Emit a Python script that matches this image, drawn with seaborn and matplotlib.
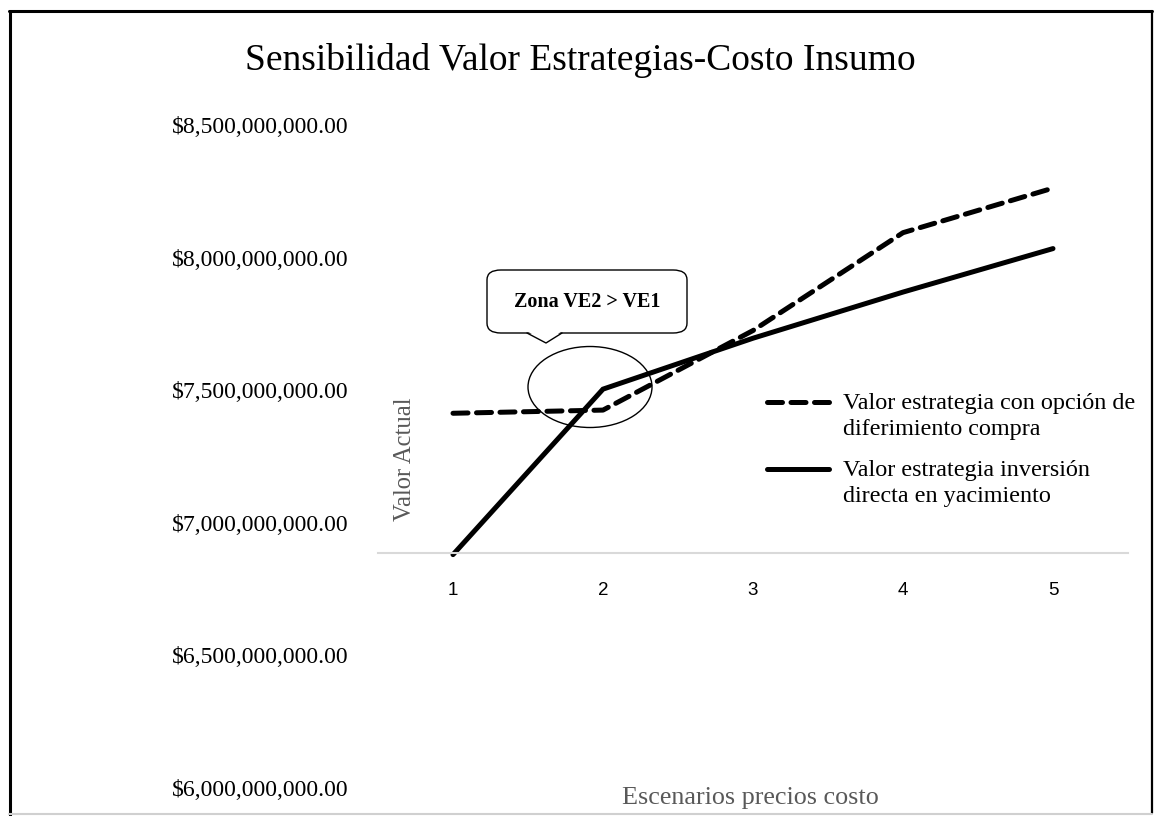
import matplotlib
matplotlib.use("Agg")
import matplotlib.pyplot as plt
import seaborn as sns
import numpy as np
from matplotlib.patches import FancyBboxPatch, Ellipse, Polygon
from matplotlib.lines import Line2D
from matplotlib.ticker import FuncFormatter

# ---- data ----
escenarios = [1, 2, 3, 4, 5]
valor_diferimiento = [7.413e9, 7.425e9, 7.725e9, 8.094e9, 8.262e9]
valor_directa = [6.880e9, 7.504e9, 7.696e9, 7.870e9, 8.034e9]
serie_labels = ["Valor estrategia con opción de\ndiferimiento compra",
                "Valor estrategia inversión\ndirecta en yacimiento"]
y_ticks = [6.0e9, 6.5e9, 7.0e9, 7.5e9, 8.0e9, 8.5e9]
x_tick_labels = ["1", "2", "3", "4", "5"]
titulo = "Sensibilidad Valor Estrategias-Costo Insumo"
x_label = "Escenarios precios costo"
y_label = "Valor Actual"
callout_text = "Zona VE2 > VE1"
axis_cross = 6.887e9

sns.set_theme(style="white")
plt.rcParams['font.family'] = ['Liberation Serif', 'DejaVu Serif']

W, H = 1155, 816
fig = plt.figure(figsize=(W / 100, H / 100), dpi=100)
fig.patch.set_facecolor("white")

def fx(px):
    return px / W

def fy(py):
    return 1 - py / H

ax = fig.add_axes([fx(378), fy(788), (1128 - 378) / W, (788 - 125) / H])
ax.set_facecolor("none")

lw = 5 / 1.389
sns.lineplot(x=escenarios, y=valor_diferimiento, ax=ax, color="black",
             linewidth=lw, linestyle=(0, (3.0, 1.7)), legend=False)
ax.lines[-1].set_dash_capstyle("round")
sns.lineplot(x=escenarios, y=valor_directa, ax=ax, color="black",
             linewidth=lw, legend=False)
ax.lines[-1].set_solid_capstyle("round")
ax.lines[-1].set_solid_joinstyle("miter")

ax.set_xlim(0.5, 5.5)
ax.set_ylim(6.0e9, 8.5e9)
ax.set_yticks(y_ticks)
ax.yaxis.set_major_formatter(FuncFormatter(lambda v, p: "${:,.2f}".format(v)))
ax.set_xticks(escenarios)
ax.set_xticklabels(x_tick_labels)
ax.tick_params(axis="y", length=0, pad=21.5, labelsize=17.1, labelcolor="black")
ax.tick_params(axis="x", length=0, pad=21, labelsize=13.5, labelcolor="black",
               labelfontfamily="Liberation Sans")

for s in ["left", "right", "top"]:
    ax.spines[s].set_visible(False)
ax.spines["bottom"].set_position(("data", axis_cross))
ax.spines["bottom"].set_color("#d9d9d9")
ax.spines["bottom"].set_linewidth(1.5)
ax.grid(False)
ax.set_xlabel("")
ax.set_ylabel("")

# titles / labels
fig.text(fx(580), fy(61), titulo, ha="center", va="center", fontsize=27, color="black")
fig.text(fx(750), fy(798), x_label, ha="center", va="center", fontsize=18.8, color="#595959")
fig.text(fx(405), fy(459), y_label, ha="center", va="center", fontsize=17.7,
         color="#595959", rotation=90)

# manual legend
leg_y1 = [402, 469]
styles = [dict(linestyle=(0, (3.0, 1.7)), dash_capstyle="round"),
          dict(linestyle="-", solid_capstyle="round")]
for yy, lab, st in zip(leg_y1, serie_labels, styles):
    ln = Line2D([fx(767), fx(829)], [fy(yy), fy(yy)], transform=fig.transFigure,
                color="black", linewidth=lw, **st)
    fig.add_artist(ln)
    fig.text(fx(843), fy(yy - 9), lab, ha="left", va="top", fontsize=17.4,
             color="black", linespacing=1.32)

# callout box
box = FancyBboxPatch((fx(487), fy(333)), fx(687) - fx(487), fy(270) - fy(333),
                     boxstyle="round,pad=0,rounding_size=0.012",
                     transform=fig.transFigure, facecolor="white",
                     edgecolor="black", linewidth=1.0, zorder=5)
fig.add_artist(box)
tri = Polygon([(fx(527), fy(331)), (fx(546), fy(343)), (fx(562), fy(331))],
              closed=True, transform=fig.transFigure, facecolor="white",
              edgecolor="none", zorder=6)
fig.add_artist(tri)
fig.add_artist(Line2D([fx(527), fx(546), fx(562)], [fy(333), fy(343), fy(333)],
                      transform=fig.transFigure, color="black", linewidth=1.0, zorder=7))
fig.text(fx(587), fy(302), callout_text, ha="center", va="center", fontsize=14.5,
         fontweight="bold", color="black", zorder=8)

ell = Ellipse((fx(590), fy(387)), 124 / W, 81 / H, transform=fig.transFigure,
              facecolor="none", edgecolor="black", linewidth=1.0, zorder=9)
fig.add_artist(ell)

# figure border
fig.add_artist(Line2D([fx(9.5), fx(9.5)], [fy(11), fy(816)], transform=fig.transFigure,
                      color="black", linewidth=2.2))
fig.add_artist(Line2D([fx(9), fx(1152)], [fy(11), fy(11)], transform=fig.transFigure,
                      color="black", linewidth=2.2))
fig.add_artist(Line2D([fx(1152), fx(1152)], [fy(11), fy(813)], transform=fig.transFigure,
                      color="black", linewidth=1.6))
fig.add_artist(Line2D([fx(9), fx(1152)], [fy(814), fy(814)], transform=fig.transFigure,
                      color="#d0d0d0", linewidth=1.5))

fig.savefig("out.png", dpi=100, facecolor="white")
